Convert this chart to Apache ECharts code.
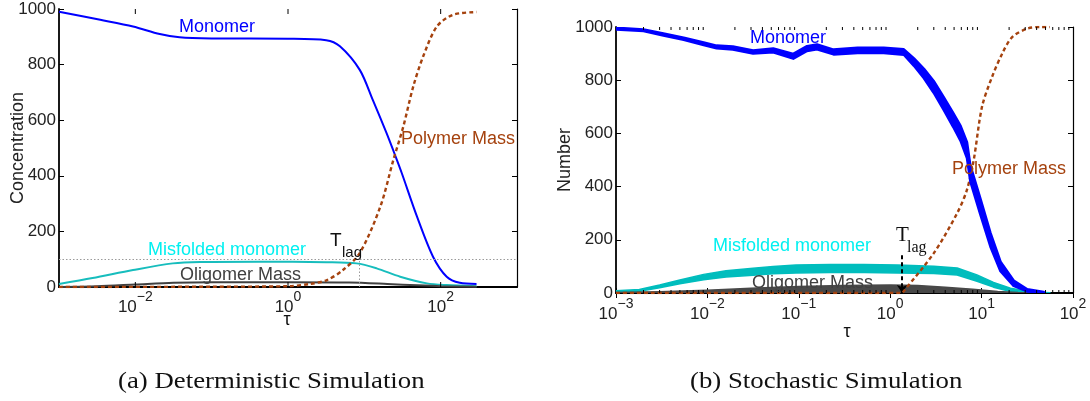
<!DOCTYPE html>
<html><head><meta charset="utf-8">
<script src="https://cdn.jsdelivr.net/npm/echarts@6/dist/echarts.min.js"></script>
<style>html,body{margin:0;padding:0;background:#fff}#c{width:1090px;height:401px}</style>
</head><body><div id="c"></div>
<script>
// ---------- (a) deterministic simulation ----------
const detTauMono = [0.001, 0.00347, 0.00933, 0.0209, 0.038, 0.1, 1, 3.16, 4.79, 8.71, 12.9, 19.5, 25.7, 30.9, 49, 79.4, 120, 178, 295];
const detMono    = [990, 961, 937, 910, 898, 894, 893, 888, 866, 781, 673, 554, 469, 410, 253, 109, 37, 15, 11];
const detTauPoly = [0.001, 0.1, 1, 1.95, 3.24, 5.25, 8.71, 16.2, 24, 32.4, 43.7, 58.9, 89.1, 144.5, 295];
const detPoly    = [0, 1, 3, 11, 25, 61, 122, 289, 457, 577, 721, 829, 937, 979, 989];
const detTauMis  = [0.001, 0.00275, 0.00933, 0.0309, 0.0708, 0.427, 3.16, 7.94, 14.5, 29.5, 66.1, 120, 295];
const detMis     = [11, 32, 61, 85, 90, 91, 89, 85, 67, 37, 13, 7, 3];
const detTauOli  = [0.001, 0.00316, 0.01, 0.0316, 0.1, 1, 6.31, 20, 50, 100, 295];
const detOli     = [0, 3, 9, 15, 17, 17, 16, 11, 6, 3, 1];
const detThreshold = 100;
const detTlag = 8.5;
const detMajorTicks = [0.01, 1, 100];

// ---------- (b) stochastic simulation (envelopes of the noisy traces) ----------
const stoTauMono = [0.001, 0.002, 0.0033, 0.0055, 0.0091, 0.0126, 0.019, 0.0316, 0.0525, 0.087, 0.123, 0.158, 0.24, 0.44, 0.85, 1.41, 1.82, 2.34, 2.99, 3.85, 4.9, 5.89, 6.92, 7.53, 9.7, 12.5, 16.1, 22.4, 31.6, 47.9];
const stoMonoLo  = [991, 985, 968, 952, 932, 920, 915, 900, 905, 881, 910, 916, 897, 902, 902, 896, 854, 807, 753, 688, 624, 572, 507, 420, 295, 174, 82, 27, 6, 0];
const stoMonoHi  = [997, 991, 976, 960, 942, 930, 927, 912, 919, 899, 928, 934, 915, 922, 922, 916, 882, 843, 797, 736, 676, 628, 567, 480, 355, 226, 118, 47, 14, 4];
const stoTauMis  = [0.001, 0.0018, 0.003, 0.005, 0.0091, 0.016, 0.0316, 0.0525, 0.093, 0.22, 0.52, 1.2, 3.0, 5.4, 8.9, 13.5, 20.7, 37, 56];
const stoMisLo   = [4, 7, 20, 35, 50, 60, 67, 72, 75, 77, 77, 75, 73, 68, 44, 22, 6, 0, 0];
const stoMisHi   = [8, 13, 30, 49, 70, 84, 93, 100, 105, 107, 107, 105, 101, 94, 68, 40, 18, 4, 1];
const stoTauOli  = [0.001, 0.003, 0.01, 0.03, 0.1, 0.3, 1, 2, 4, 8, 15, 25, 40];
const stoOliLo   = [0, 0, 0, 0, 0, 0, 0, 0, 0, 0, 0, 0, 0];
const stoOliHi   = [2, 5, 10, 18, 24, 28, 30, 28, 22, 14, 6, 2, 0];
const stoTauPoly = [0.001, 1.35, 1.4, 3.0, 5.4, 6.9, 8.2, 10.1, 13, 16.8, 21.6, 31.6, 44, 56];
const stoPoly    = [0, 0, 6, 150, 300, 387, 500, 700, 812, 900, 962, 994, 1000, 1000];
const stoTlag = 1.35;
const stoTlagArrowTop = 142;

const yTicks = [0, 200, 400, 600, 800, 1000];

const FONT = '"Liberation Sans", Arial, Helvetica, sans-serif';
const SERIF = '"Liberation Serif", "Times New Roman", serif';
const BLUE = '#0000ff', BROWN = '#a5420e', CYAN = '#17bdbd', CYANTXT = '#00f0f0', GRAY = '#404040';

function zip(a, b) { return a.map((x, i) => [x, b[i]]); }
function expLabel(v) {
  const e = Math.round(Math.log10(v));
  return '{b|10}{e|' + (e < 0 ? '\u2212' + (-e) : String(e)) + '}';
}
function expLabelEven(v) {
  const e = Math.round(Math.log10(v));
  return (e % 2 === 0) ? expLabel(v) : '';
}
const labelRich = {
  b: { fontSize: 17, lineHeight: 20, fontFamily: FONT, color: '#222' },
  e: { fontSize: 14, lineHeight: 16, padding: [0, 0, 20, 0], fontFamily: FONT, color: '#222' }
};

function xAx(grid, max, split, top, showMinMax, fmt, showTicks, margin) {
  return {
    gridIndex: grid, type: 'log', logBase: 10, min: 0.001, max: max, splitNumber: split,
    position: top ? 'top' : 'bottom',
    axisLine: { show: true, lineStyle: { color: '#000', width: top ? 1.2 : 1.8 } },
    axisTick: { show: showTicks, inside: true, length: 5, lineStyle: { color: '#000', width: 1 } },
    axisLabel: top ? { show: false } : { formatter: fmt, rich: labelRich, margin: margin, showMinLabel: showMinMax, showMaxLabel: showMinMax },
    splitLine: { show: false }, minorTick: { show: false }
  };
}
function yAx(grid, right) {
  return {
    gridIndex: grid, type: 'value', min: yTicks[0], max: yTicks[yTicks.length - 1], interval: yTicks[1] - yTicks[0],
    position: right ? 'right' : 'left',
    axisLine: { show: true, lineStyle: { color: '#000', width: right ? 1.2 : 1.8 } },
    axisTick: { show: true, inside: true, length: 5, lineStyle: { color: '#000', width: 1 } },
    axisLabel: right ? { show: false } : { fontSize: 17, color: '#222', fontFamily: FONT, margin: 3, formatter: v => String(v) },
    splitLine: { show: false }
  };
}

function band(xs, lo, hi, color, strokeW, z) {
  return {
    type: 'custom', xAxisIndex: 2, yAxisIndex: 2, clip: true, silent: true, z: z,
    encode: { x: 0, y: [1, 2] },
    data: xs.map((x, i) => [x, lo[i], hi[i]]),
    renderItem: function (params, api) {
      if (params.dataIndex !== 0) return null;
      const pts = [];
      for (let i = 0; i < xs.length; i++) pts.push(api.coord([xs[i], hi[i]]));
      for (let i = xs.length - 1; i >= 0; i--) pts.push(api.coord([xs[i], lo[i]]));
      return { type: 'polygon', shape: { points: pts }, style: { fill: color, stroke: color, lineWidth: strokeW, lineJoin: 'round' } };
    }
  };
}

// tick marks drawn through the axes' scales (top and bottom edges)
function tickSeries(xi, yi, values, len) {
  return {
    type: 'custom', xAxisIndex: xi, yAxisIndex: yi, silent: true, z: 20, clip: false,
    encode: { x: 0, y: 1 },
    data: values.map(v => [v, yTicks[0]]),
    renderItem: function (params, api) {
      const v = values[params.dataIndex];
      const b = api.coord([v, yTicks[0]]);
      const t = api.coord([v, yTicks[yTicks.length - 1]]);
      const st = { stroke: '#000', lineWidth: 1 };
      return { type: 'group', children: [
        { type: 'line', shape: { x1: b[0], y1: b[1], x2: b[0], y2: b[1] - len }, style: st },
        { type: 'line', shape: { x1: t[0], y1: t[1], x2: t[0], y2: t[1] + len }, style: st }
      ] };
    }
  };
}
const minorTicks = [];
for (let d = -3; d < 2; d++) for (let k = 2; k <= 9; k++) minorTicks.push(k * Math.pow(10, d));

function txt(x, y, s, color, size, family, align, sx, rot) {
  const o = { type: 'text', x: x, y: y, z: 100,
    style: { text: s, fill: color, font: size + 'px ' + (family || FONT), textVerticalAlign: 'middle', textAlign: align || 'left' } };
  if (sx) { o.scaleX = sx; }
  if (rot) { o.rotation = rot; }
  return o;
}

const line = (xi, yi, data, color, w, dashed, z) => ({
  type: 'line', xAxisIndex: xi, yAxisIndex: yi, data: data, showSymbol: false, symbol: 'none',
  smooth: 0.3, z: z || 3,
  lineStyle: { color: color, width: w, type: dashed ? [4, 3] : 'solid', cap: 'butt' }
});

const chart = echarts.init(document.getElementById('c'), null, { renderer: 'canvas' });
const misDet = line(0, 0, zip(detTauMis, detMis), CYAN, 2);
misDet.markLine = {
  silent: true, symbol: 'none', label: { show: false }, animation: false,
  lineStyle: { color: '#9a9a9a', type: [1.5, 2], width: 1 },
  data: [{ yAxis: detThreshold }, [{ coord: [detTlag, 0] }, { coord: [detTlag, detThreshold] }]]
};
const polySto = line(2, 2, zip(stoTauPoly, stoPoly), BROWN, 2.4, true, 5);
polySto.markLine = {
  silent: true, symbol: ['none', 'arrow'], symbolSize: 8, label: { show: false }, animation: false,
  lineStyle: { color: '#000', type: [4, 3], width: 2 },
  data: [[{ coord: [stoTlag, stoTlagArrowTop] }, { coord: [stoTlag, 0] }]]
};

chart.setOption({
  animation: false,
  backgroundColor: '#fff',
  grid: [
    { left: 59, top: 9, width: 458, height: 278 },
    { left: 616, top: 27, width: 457, height: 266 }
  ],
  xAxis: [
    xAx(0, 1000, 3, false, false, expLabelEven, false, 10),
    xAx(0, 1000, 3, true, false, null, false, 0),
    xAx(1, 100, 5, false, true, expLabel, true, 11),
    xAx(1, 100, 5, true, true, null, true, 0)
  ],
  yAxis: [yAx(0, false), yAx(0, true), yAx(1, false), yAx(1, true)],
  series: [
    misDet,
    line(0, 0, zip(detTauOli, detOli), GRAY, 2),
    line(0, 0, zip(detTauMono, detMono), BLUE, 2),
    line(0, 0, zip(detTauPoly, detPoly), BROWN, 2.4, true, 5),
    tickSeries(0, 0, detMajorTicks, 5),
    band(stoTauMis, stoMisLo, stoMisHi, '#00bdbd', 1.5, 2),
    band(stoTauOli, stoOliLo, stoOliHi, '#484848', 1.5, 3),
    polySto,
    band(stoTauMono, stoMonoLo, stoMonoHi, BLUE, 2.5, 6),
    tickSeries(2, 2, minorTicks, 3)
  ],
  graphic: [
    txt(18, 148, 'Concentration', '#222', 18, FONT, 'center', null, Math.PI / 2),
    txt(565, 160, 'Number', '#222', 18, FONT, 'center', null, Math.PI / 2),
    txt(179, 27, 'Monomer', BLUE, 18),
    txt(401, 139, 'Polymer Mass', BROWN, 18),
    txt(148, 250, 'Misfolded monomer', CYANTXT, 18),
    txt(180, 275, 'Oligomer Mass', GRAY, 18),
    txt(330, 241, 'T', '#111', 19),
    txt(342, 253, 'lag', '#111', 15),
    txt(287, 320, '\u03c4', '#111', 18, FONT, 'center'),
    txt(750, 38, 'Monomer', BLUE, 18),
    txt(952, 169, 'Polymer Mass', BROWN, 18),
    txt(713, 246, 'Misfolded monomer', CYANTXT, 18),
    txt(752, 283, 'Oligomer Mass', GRAY, 18),
    txt(896, 235, 'T', '#111', 21, SERIF),
    txt(907, 248, 'lag', '#111', 16, SERIF),
    txt(847, 332, '\u03c4', '#111', 18, FONT, 'center'),
    txt(118, 382, '(a) Deterministic Simulation', '#111', 23, SERIF, 'left', 1.165),
    txt(690, 382, '(b) Stochastic Simulation', '#111', 23, SERIF, 'left', 1.165)
  ]
});
</script></body></html>
